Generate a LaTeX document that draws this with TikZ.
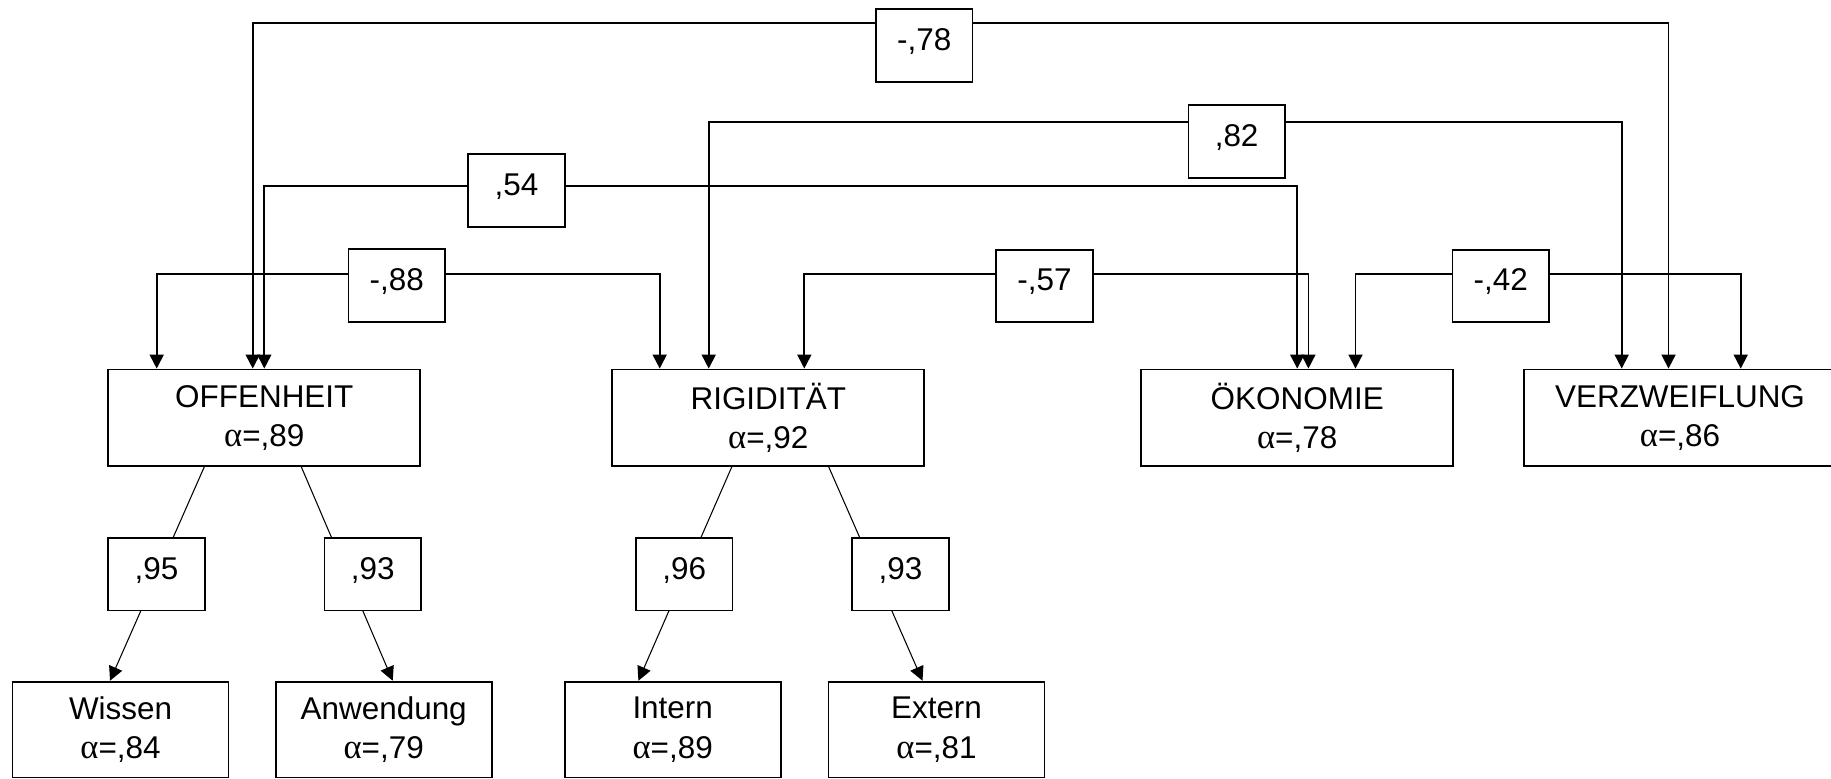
\documentclass[tikz,border=0pt]{standalone}
\usepackage{fontspec}
\setmainfont{Liberation Sans}
\newfontfamily\greekfont{Liberation Serif}[Scale=1.1]
\newcommand{\al}{{\greekfont α}}
\usetikzlibrary{arrows.meta,calc}

\tikzset{
  factor/.style={draw,line width=1pt,minimum width=6.24cm,minimum height=1.93cm,align=center,inner sep=0pt},
  facet/.style={draw,line width=1pt,minimum width=4.32cm,minimum height=1.92cm,align=center,inner sep=0pt},
  coef/.style={draw,fill=white,line width=1pt,minimum width=1.93cm,minimum height=1.45cm,inner sep=0pt,text depth=7pt},
  link/.style={line width=1pt,{Triangle[length=8pt,width=8pt]}-{Triangle[length=8pt,width=8pt]}},
  load/.style={line width=0.6pt,-{Triangle[length=8pt,width=8pt]}}
}

\begin{document}
\begin{tikzpicture}[x=0.02cm,y=-0.02cm,font=\fontsize{17.9}{22.3}\selectfont]
      \useasboundingbox (0,0) rectangle (1831,778);
      \draw
        (264.3,417.7) node[factor] (off){OFFENHEIT\\\al=,89}
        (768.3,417.7) node[factor] (rig){RIGIDITÄT\\\al=,92}
        (1297.2,417.7) node[factor] (oko){ÖKONOMIE\\\al=,78}
        (1680,417.7) node[factor] (ver){VERZWEIFLUNG\\\al=,86}
        (120.6,729.6) node[facet] (wis){Wissen\\\al=,84}
        (383.7,729.6) node[facet] (anw){Anwendung\\\al=,79}
        (672.7,729.6) node[facet] (int){Intern\\\al=,89}
        (936.5,729.6) node[facet] (ext){Extern\\\al=,81};
      \coordinate (b78) at (925,23);
      \coordinate (b82) at (1236.5,121.7);
      \coordinate (b54) at (516.5,185.7);
      \coordinate (b88) at (396.7,273.7);
      \coordinate (b57) at (1044.5,273.7);
      \coordinate (b42) at (1500.8,273.7);
      \begin{scope}[link]
        \draw ($(off.north)+(-11.6,0)$) |- (b78) -| ($(ver.north)+(-11.5,0)$);
        \draw ($(rig.north)+(-59.6,0)$) |- (b82) -| ($(ver.north)+(-58.3,0)$);
        \draw (off.north) |- (b54) -| (oko.north);
        \draw ($(off.north)+(-107.6,0)$) |- (b88) -| ($(rig.north)+(-108.6,0)$);
        \draw ($(rig.north)+(36,0)$) |- (b57) -| ($(oko.north)+(11.2,0)$);
        \draw ($(oko.north)+(58.3,0)$) |- (b42) -| ($(ver.north)+(60.7,0)$);
      \end{scope}
      \begin{scope}[load]
        \draw ($(off.south)+(-60,0)$) -- ($(wis.north)+(-10.6,0)$);
        \draw ($(off.south)+(37,0)$) -- ($(anw.north)+(9,0)$);
        \draw ($(rig.south)+(-36.5,0)$) -- ($(int.north)+(-34.3,0)$);
        \draw ($(rig.south)+(60.4,0)$) -- ($(ext.north)+(-14,0)$);
      \end{scope}
      \draw
        (924.3,45.5) node[coef] (l78){-,78}
        (1236.6,141.4) node[coef] (l82){,82}
        (516.5,190.4) node[coef] (l54){,54}
        (396.7,285.5) node[coef] (l88){-,88}
        (1044.5,285.9) node[coef] (l57){-,57}
        (1500.8,285.9) node[coef] (l42){-,42}
        (156.5,574.2) node[coef] (l95){,95}
        (372.8,574.2) node[coef] (l93a){,93}
        (684.2,574.2) node[coef] (l96){,96}
        (900.5,574.2) node[coef] (l93b){,93};
    \end{tikzpicture}
\end{document}
